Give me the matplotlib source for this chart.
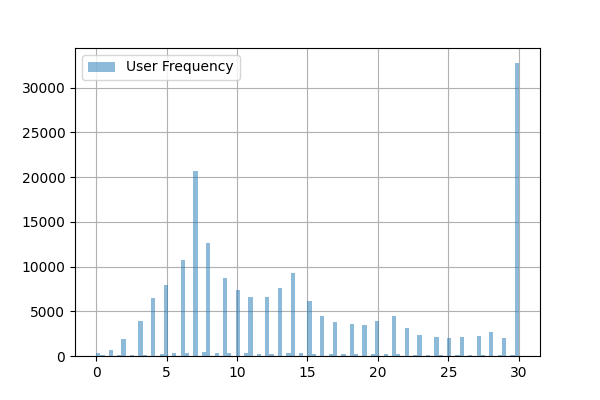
import matplotlib
matplotlib.use("Agg")
import matplotlib.pyplot as plt
import numpy as np

days = list(range(0, 31))
counts = [300, 700, 1900, 3900, 6500, 7900, 10700, 20700, 12600, 8700, 7400, 6600, 6600,
          7600, 9300, 6100, 4500, 3800, 3600, 3500, 3900, 4500, 3100, 2400, 2100, 2000,
          2100, 2200, 2700, 2000, 32800]
half_days = [d + 0.5 for d in range(0, 30)]
half_counts = [150, 100, 150, 100, 250, 300, 300, 450, 300, 350, 300, 250, 250, 300, 300,
               250, 200, 250, 200, 200, 250, 200, 100, 150, 100, 100, 100, 150, 100, 100]

vals = np.array(days + half_days, dtype=float)
w = np.array(counts + half_counts, dtype=float)

fig, ax = plt.subplots(figsize=(6, 4), dpi=100)
ax.hist(vals, bins=100, range=(0, 30), weights=w, alpha=0.5, label="User Frequency", zorder=2)
ax.grid(True, zorder=0)
ax.set_axisbelow(True)
ax.legend(loc="upper left")
fig.savefig("out.png")
